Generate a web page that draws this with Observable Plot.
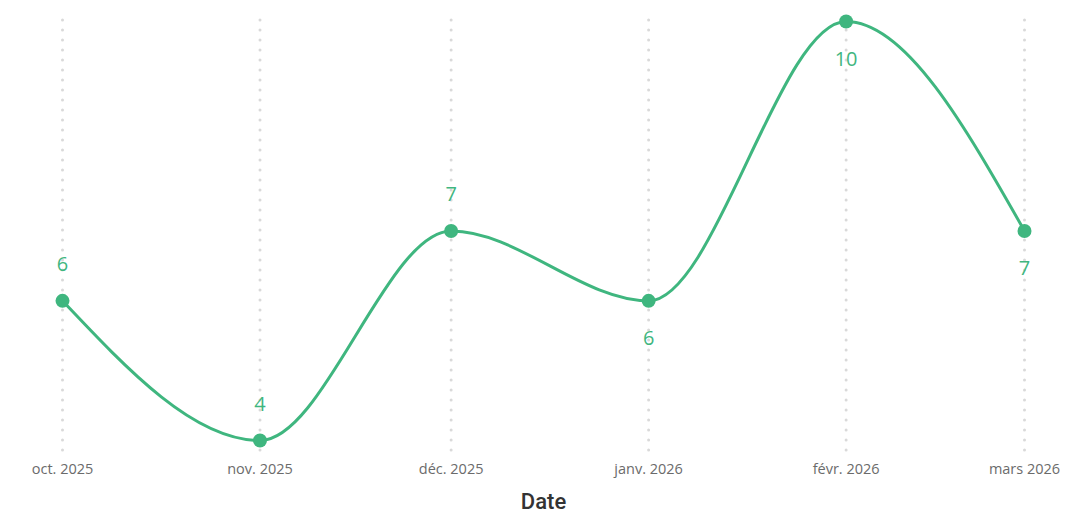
<!DOCTYPE html>
<html>
<head>
<meta charset="utf-8">
<script src="https://cdn.jsdelivr.net/npm/d3@7"></script>
<script src="https://cdn.jsdelivr.net/npm/@observablehq/plot@0.6"></script>
<style>
  html, body { margin: 0; padding: 0; background: #fff; }
  #chart { width: 1074px; height: 516px; }
</style>
</head>
<body>
<div id="chart"></div>
<script>
// Data
const months = ["2025-10-01", "2025-11-01", "2025-12-01", "2026-01-01", "2026-02-01", "2026-03-01"];
const counts = [6, 4, 7, 6, 10, 7];
const tickLabels = ["oct. 2025", "nov. 2025", "déc. 2025", "janv. 2026", "févr. 2026", "mars 2026"];
const labelAbove = [true, true, true, false, false, false];

const data = months.map((m, i) => ({date: new Date(m + "T00:00:00"), value: counts[i], above: labelAbove[i]}));
const dates = data.map(d => d.date);
const labelOf = new Map(dates.map((d, i) => [+d, tickLabels[i]]));

const green = "#3fb67f";
const font = "'Open Sans', 'Noto Sans', sans-serif";

const chart = Plot.plot({
  width: 1074,
  height: 516,
  marginLeft: 62,
  marginRight: 50,
  marginTop: 21,
  marginBottom: 76,
  style: {fontFamily: font, background: "#fff"},
  x: {type: "time", domain: [dates[0], dates[dates.length - 1]]},
  y: {domain: [4, 10], axis: null},
  marks: [
    Plot.ruleX(dates, {stroke: "#d9d9d9", strokeWidth: 3, strokeDasharray: "0,10", strokeLinecap: "round", insetTop: -1, insetBottom: -14}),
    Plot.axisX(dates, {tickSize: 0, tickPadding: 23, fontSize: 14.5, fill: "#6b6b6b", tickFormat: d => labelOf.get(+d), label: null}),
    Plot.text(["Date"], {frameAnchor: "bottom", dy: 68, fontSize: 22, fontWeight: 500, fill: "#333", fontFamily: "Roboto, sans-serif"}),
    Plot.line(data, {x: "date", y: "value", stroke: green, strokeWidth: 3, curve: "monotone-x"}),
    Plot.dot(data, {x: "date", y: "value", r: 7, fill: green, stroke: "none"}),
    Plot.text(data.filter(d => d.above), {x: "date", y: "value", text: d => String(d.value), dy: -36, fontSize: 20, fill: green}),
    Plot.text(data.filter(d => !d.above), {x: "date", y: "value", text: d => String(d.value), dy: 38, fontSize: 20, fill: green})
  ]
});
document.getElementById("chart").appendChild(chart);
</script>
</body>
</html>
